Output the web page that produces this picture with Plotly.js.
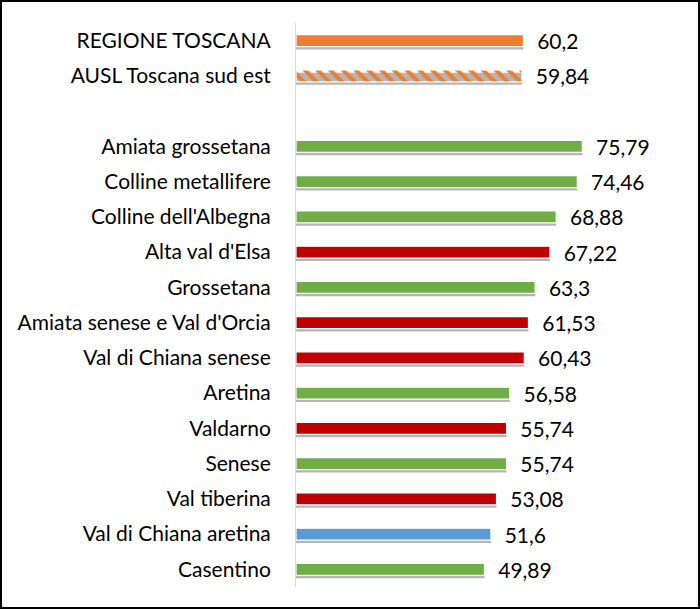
<!DOCTYPE html>
<html>
<head>
<meta charset="utf-8">
<script src="https://cdn.plot.ly/plotly-3.0.1.min.js"></script>
<style>
  html, body { margin: 0; padding: 0; background: #fff; }
  #frame { width: 700px; height: 609px; box-sizing: border-box; border: 2px solid #000; position: relative; overflow: hidden; }
  #chart { position: absolute; left: -2px; top: -2px; width: 700px; height: 609px; }
</style>
</head>
<body>
<div id="frame"><div id="chart"></div></div>
<script>
const categories = [
  "REGIONE TOSCANA", "AUSL Toscana sud est", " ",
  "Amiata grossetana", "Colline metallifere", "Colline dell'Albegna",
  "Alta val d'Elsa", "Grossetana", "Amiata senese e Val d'Orcia",
  "Val di Chiana senese", "Aretina", "Valdarno", "Senese",
  "Val tiberina", "Val di Chiana aretina", "Casentino"
];
const values = [
  60.2, 59.84, null,
  75.79, 74.46, 68.88,
  67.22, 63.3, 61.53,
  60.43, 56.58, 55.74, 55.74,
  53.08, 51.6, 49.89
];
const ORANGE = "#ED7D31", GREEN = "#70AD47", RED = "#C00000", BLUE = "#5B9BD5";
const barColors = [
  ORANGE, ORANGE, ORANGE,
  GREEN, GREEN, GREEN,
  RED, GREEN, RED,
  RED, GREEN, RED, GREEN,
  RED, BLUE, GREEN
];
const patternShapes = categories.map((c, i) => i === 1 ? "\\" : "");

const barWidth = 0.34;
const FONT = "Lato, 'Open Sans', sans-serif";

const shadow = {
  type: "bar", orientation: "h",
  y: categories, x: values,
  width: barWidth, offset: -barWidth / 2 + 0.08,
  marker: { color: "rgba(60,60,60,0.38)", line: { width: 0 } },
  hoverinfo: "skip", showlegend: false
};

const bars = {
  type: "bar", orientation: "h",
  y: categories, x: values,
  width: barWidth, offset: -barWidth / 2,
  marker: {
    color: barColors,
    line: { color: "#ffffff", width: 1.2 },
    pattern: { shape: patternShapes, fillmode: "replace", bgcolor: "#ffffff", size: 9, solidity: 0.45 }
  },
  texttemplate: "\u00a0\u00a0%{x:.2~f}",
  textposition: "outside",
  constraintext: "none",
  cliponaxis: false,
  textfont: { family: FONT, size: 21, color: "#000" },
  showlegend: false
};

const layout = {
  width: 700, height: 609,
  margin: { l: 296, r: 30, t: 23, b: 22 },
  paper_bgcolor: "rgba(0,0,0,0)", plot_bgcolor: "rgba(0,0,0,0)",
  separators: ",.",
  barmode: "overlay",
  font: { family: FONT, size: 21, color: "#000" },
  xaxis: { range: [0, 99], visible: false, showgrid: false, zeroline: false, fixedrange: true },
  yaxis: {
    type: "category", autorange: "reversed",
    showline: true, linecolor: "#d9d9d9", linewidth: 1,
    ticks: "", showgrid: false,
    ticklabelstandoff: 20,
    tickfont: { family: FONT, size: 21, color: "#000" }
  }
};

Plotly.newPlot("chart", [shadow, bars], layout, { displayModeBar: false, staticPlot: true });
</script>
</body>
</html>
